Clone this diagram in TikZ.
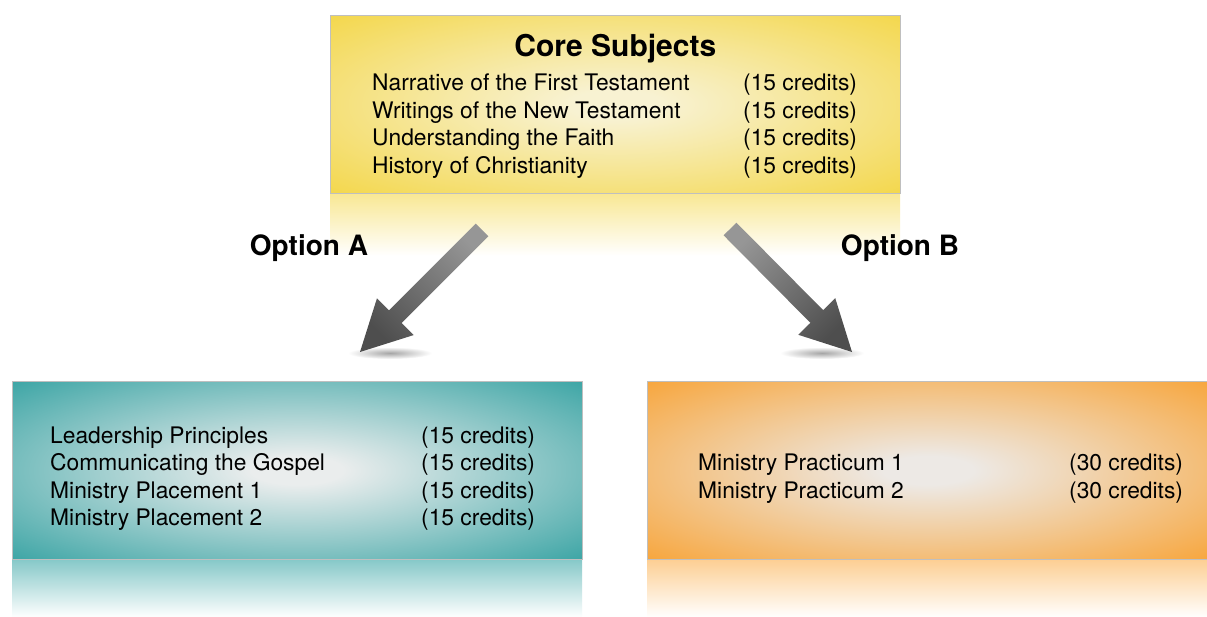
\documentclass[tikz,border=0pt]{standalone}
\usepackage{fontspec}
\setmainfont{TeX Gyre Heros}
\usetikzlibrary{calc}

\definecolor{coreedge}{RGB}{242,208,40}
\definecolor{coremid}{RGB}{248,242,210}
\definecolor{tealedge}{RGB}{14,146,146}
\definecolor{tealmid}{RGB}{234,237,237}
\definecolor{orangeedge}{RGB}{250,148,16}
\definecolor{orangemid}{RGB}{237,233,229}
\definecolor{arrowlight}{RGB}{150,150,150}
\definecolor{arrowdark}{RGB}{78,78,78}

\pgfdeclareradialshading{coreglow}{\pgfpoint{0bp}{0bp}}{color(0bp)=(coremid); color(4bp)=(coremid); color(44bp)=(coreedge); color(75bp)=(coreedge)}
\pgfdeclareradialshading{tealglow}{\pgfpoint{0bp}{0bp}}{color(0bp)=(tealmid); color(4bp)=(tealmid); color(44bp)=(tealedge); color(75bp)=(tealedge)}
\pgfdeclareradialshading{orangeglow}{\pgfpoint{0bp}{0bp}}{color(0bp)=(orangemid); color(4bp)=(orangemid); color(44bp)=(orangeedge); color(75bp)=(orangeedge)}

\tikzset{
    x=1pt, y=1pt,
    box/.style={draw=black!25, line width=0.6pt, anchor=north west, minimum width=570pt, minimum height=178pt, inner sep=0pt},
    course/.style={anchor=base west, inner sep=0pt, font=\fontsize{22.8}{27}\selectfont},
    heading/.style={anchor=base, inner sep=0pt, font=\fontsize{30}{34}\selectfont\bfseries},
    option/.style={anchor=base, inner sep=0pt, font=\fontsize{28}{32}\selectfont\bfseries},
    arrowbody/.style={top color=arrowlight, bottom color=arrowdark},
    tipshadow/.style={inner color=black!35, outer color=white}
}

\begin{document}
\begin{tikzpicture}
        \fill[white] (0, 0) rectangle (1207, -616);
        \clip (0, 0) rectangle (1207, -616);

        % boxes and their reflections
        \node[box, shading=coreglow] (core) at (330, -15) {};
        \shade[top color=coreedge!50!white, bottom color=white] (core.south west) rectangle ++(570, -62);
        \node[box, shading=tealglow] (optA) at (12, -381) {};
        \shade[top color=tealedge!50!white, bottom color=white] (optA.south west) rectangle ++(570, -58);
        \node[box, shading=orangeglow, minimum width=562pt] (optB) at (647, -381) {};
        \shade[top color=orangeedge!45!white, bottom color=white] (optB.south west) rectangle ++(562, -58);
        \draw[black!25, line width=0.6pt] (core.south west) -- (core.south east);
        \draw[black!25, line width=0.6pt] (optA.south west) -- (optA.south east);
        \draw[black!25, line width=0.6pt] (optB.south west) -- (optB.south east);

        % core subjects
        \node[heading] (title) at ($(core.north)+(0, -41)$) {Core Subjects};
        \node[course] (c1) at ($(core.north west)+(42, -75)$) {Narrative of the First Testament};
        \node[course] (c2) at ($(core.north west)+(42, -103)$) {Writings of the New Testament};
        \node[course] (c3) at ($(core.north west)+(42, -130)$) {Understanding the Faith};
        \node[course] (c4) at ($(core.north west)+(42, -158)$) {History of Christianity};
        \node[course] (c1cr) at ($(core.north west)+(413, -75)$) {(15 credits)};
        \node[course] (c2cr) at ($(core.north west)+(413, -103)$) {(15 credits)};
        \node[course] (c3cr) at ($(core.north west)+(413, -130)$) {(15 credits)};
        \node[course] (c4cr) at ($(core.north west)+(413, -158)$) {(15 credits)};

        % option A
        \node[course] (a1) at ($(optA.north west)+(38, -62)$) {Leadership Principles};
        \node[course] (a2) at ($(optA.north west)+(38, -89)$) {Communicating the Gospel};
        \node[course] (a3) at ($(optA.north west)+(38, -117)$) {Ministry Placement 1};
        \node[course] (a4) at ($(optA.north west)+(38, -144)$) {Ministry Placement 2};
        \node[course] (a1cr) at ($(optA.north west)+(409, -62)$) {(15 credits)};
        \node[course] (a2cr) at ($(optA.north west)+(409, -89)$) {(15 credits)};
        \node[course] (a3cr) at ($(optA.north west)+(409, -117)$) {(15 credits)};
        \node[course] (a4cr) at ($(optA.north west)+(409, -144)$) {(15 credits)};

        % option B
        \node[course] (b1) at ($(optB.north west)+(51, -89)$) {Ministry Practicum 1};
        \node[course] (b2) at ($(optB.north west)+(51, -117)$) {Ministry Practicum 2};
        \node[course] (b1cr) at ($(optB.north west)+(422, -89)$) {(30 credits)};
        \node[course] (b2cr) at ($(optB.north west)+(422, -117)$) {(30 credits)};

        \node[option] (labelA) at (309, -255) {Option A};
        \node[option] (labelB) at (900, -255) {Option B};

        % arrows
        \coordinate (aTail) at (482, -230);
        \coordinate (aTip) at (360, -352);
        \coordinate (bTail) at (730, -229);
        \coordinate (bTip) at (852, -352);

        \shade[tipshadow] (390, -353) ellipse (42 and 6);
        \shade[tipshadow] (822, -353) ellipse (42 and 6);

        \shade[arrowbody, shading angle=-45]
            ($(aTail)!9pt!90:(aTip)$) -- ($(aTip)!50pt!(aTail)!9pt!90:(aTip)$)
            -- ($(aTip)!50pt!(aTail)!26pt!90:(aTip)$) -- (aTip)
            -- ($(aTip)!50pt!(aTail)!26pt!-90:(aTip)$) -- ($(aTip)!50pt!(aTail)!9pt!-90:(aTip)$)
            -- ($(aTail)!9pt!-90:(aTip)$) -- cycle;
        \shade[arrowbody, shading angle=45]
            ($(bTail)!9pt!90:(bTip)$) -- ($(bTip)!50pt!(bTail)!9pt!90:(bTip)$)
            -- ($(bTip)!50pt!(bTail)!26pt!90:(bTip)$) -- (bTip)
            -- ($(bTip)!50pt!(bTail)!26pt!-90:(bTip)$) -- ($(bTip)!50pt!(bTail)!9pt!-90:(bTip)$)
            -- ($(bTail)!9pt!-90:(bTip)$) -- cycle;
\end{tikzpicture}
\end{document}
